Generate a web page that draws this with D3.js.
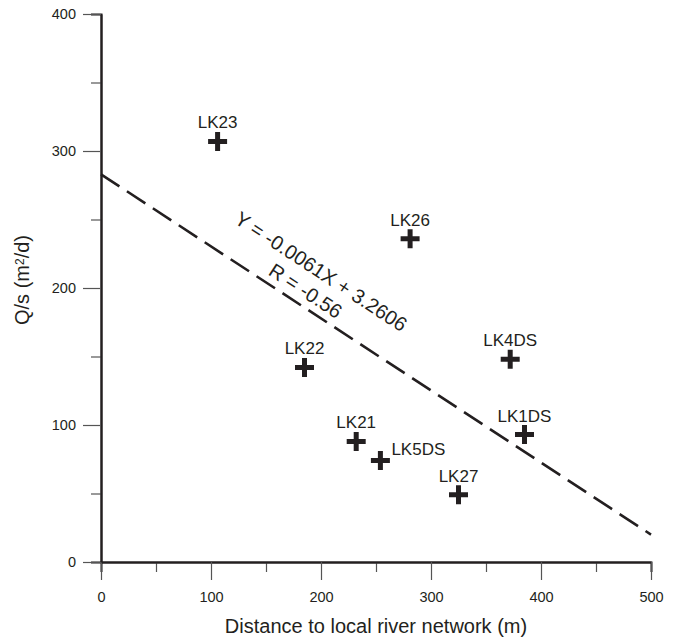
<!DOCTYPE html>
<html>
<head>
<meta charset="utf-8">
<script src="https://cdn.jsdelivr.net/npm/d3@7"></script>
<style>
  body { margin: 0; background: #fff; }
  text { font-family: "Liberation Sans", Arial, sans-serif; fill: #231f20; }
</style>
</head>
<body>
<script>
// wells and their values
const wells = ['LK23', 'LK26', 'LK22', 'LK4DS', 'LK1DS', 'LK21', 'LK5DS', 'LK27'];
const distance = [106, 281, 185, 372, 385, 232, 254, 325];
const specCap = [307, 236, 142, 148, 93, 88, 74, 49];
const labelSide = ['top', 'top', 'top', 'top', 'top', 'top', 'right', 'top'];

// regression line ends (distance, Q/s)
const fitX = [0, 500];
const fitY = [283, 20];
const eqText = 'Y = -0.0061X + 3.2606';
const rText = 'R = -0.56';

const xTicks = [0, 100, 200, 300, 400, 500];
const xMinor = [50, 150, 250, 350, 450];
const yTicks = [0, 100, 200, 300, 400];
const yMinor = [50, 150, 250, 350];

const svgWidth = 675, svgHeight = 641;
const margin = { top: 14, right: 24, bottom: 79, left: 101 };
const width = svgWidth - margin.left - margin.right;
const height = svgHeight - margin.top - margin.bottom;

const svg = d3.select("body")
  .append("svg")
  .attr("width", svgWidth)
  .attr("height", svgHeight)
  .append("g")
  .attr("transform", `translate(${margin.left},${margin.top})`);

const x = d3.scaleLinear().domain([0, 500]).range([0, width]);
const y = d3.scaleLinear().domain([0, 400]).range([height, 0]);

// minor ticks first
svg.append("g")
  .attr("class", "axis")
  .attr("transform", `translate(0,${height})`)
  .call(d3.axisBottom(x).tickValues(xMinor).tickSize(10).tickFormat(""));
svg.append("g")
  .attr("class", "axis")
  .call(d3.axisLeft(y).tickValues(yMinor).tickSize(10).tickFormat(""));

// major ticks
svg.append("g")
  .attr("class", "axis")
  .attr("transform", `translate(0,${height})`)
  .call(d3.axisBottom(x).tickValues(xTicks).tickSize(18).tickPadding(12).tickSizeOuter(0));
svg.append("g")
  .attr("class", "axis")
  .call(d3.axisLeft(y).tickValues(yTicks).tickSize(18).tickPadding(7).tickSizeOuter(0));

svg.selectAll(".axis .domain").attr("stroke", "#231f20").attr("stroke-width", 2);
svg.selectAll(".axis .tick line").attr("stroke", "#555").attr("stroke-width", 1.2);
svg.selectAll(".axis .tick text")
  .style("font-family", '"Liberation Sans", Arial, sans-serif')
  .style("font-size", "14.5px")
  .attr("fill", "#231f20");

// axis titles
svg.append("text")
  .attr("x", width / 2)
  .attr("y", height + 71)
  .attr("text-anchor", "middle")
  .style("font-size", "20px")
  .text("Distance to local river network (m)");

const yt = svg.append("text")
  .attr("transform", `translate(${29 - margin.left},${280 - margin.top}) rotate(-90)`)
  .attr("text-anchor", "middle")
  .style("font-size", "20px");
yt.append("tspan").text("Q/s (m");
yt.append("tspan").attr("dy", "-0.45em").style("font-size", "12px").text("2");
yt.append("tspan").attr("dy", "0.27em").text("/d)");

// regression line
const fit = fitX.map((d, i) => [d, fitY[i]]);
svg.append("path")
  .datum(fit)
  .attr("d", d3.line().x(d => x(d[0])).y(d => y(d[1])))
  .attr("fill", "none")
  .attr("stroke", "#231f20")
  .attr("stroke-width", 2.6)
  .attr("stroke-dasharray", "22,9");

const angle = Math.atan2(y(fitY[1]) - y(fitY[0]), x(fitX[1]) - x(fitX[0])) * 180 / Math.PI;
svg.append("text")
  .attr("transform", `translate(${x(200)},${y(212)}) rotate(${angle})`)
  .attr("text-anchor", "middle")
  .attr("dy", "0.35em")
  .style("font-size", "20px")
  .text(eqText);
svg.append("text")
  .attr("transform", `translate(${x(186)},${y(198)}) rotate(${angle})`)
  .attr("text-anchor", "middle")
  .attr("dy", "0.35em")
  .style("font-size", "20px")
  .text(rText);

// crosses
const arm = 9.5;
const pts = svg.selectAll(".pt")
  .data(wells)
  .enter()
  .append("g")
  .attr("class", "pt")
  .attr("transform", (d, i) => `translate(${x(distance[i])},${y(specCap[i])})`);

pts.append("path")
  .attr("d", `M${-arm},0H${arm}M0,${-arm}V${arm}`)
  .attr("stroke", "#231f20")
  .attr("stroke-width", 5);

pts.append("text")
  .attr("x", (d, i) => labelSide[i] === 'right' ? 11 : 0)
  .attr("y", (d, i) => labelSide[i] === 'right' ? -6 : -13)
  .attr("text-anchor", (d, i) => labelSide[i] === 'right' ? "start" : "middle")
  .style("font-size", "17px")
  .text(d => d);
</script>
</body>
</html>
